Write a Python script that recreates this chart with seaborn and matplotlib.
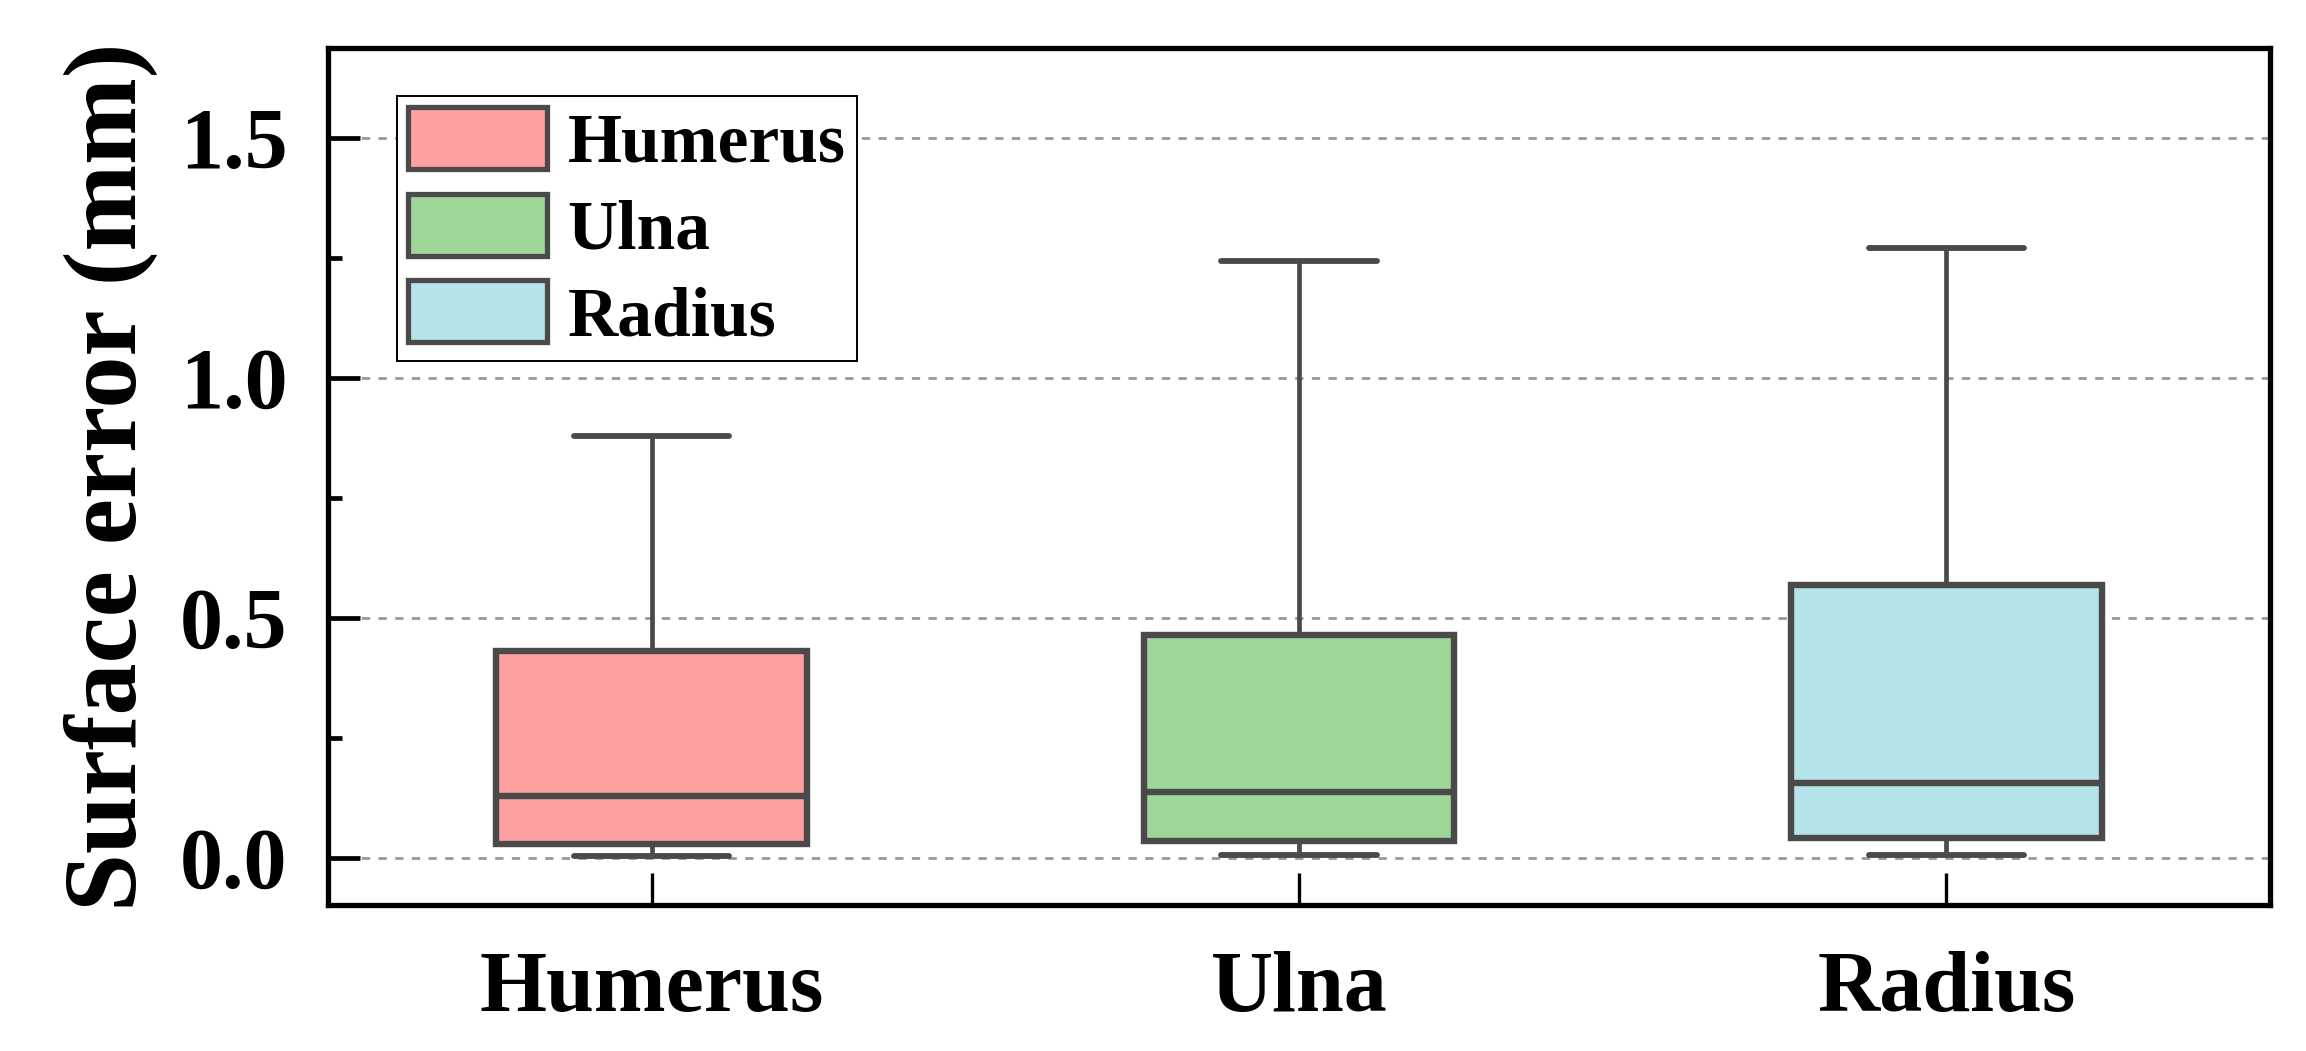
import numpy as np
import pandas as pd
import matplotlib
matplotlib.use("Agg")
import matplotlib.pyplot as plt
from matplotlib.patches import Patch
from matplotlib.font_manager import FontProperties
import seaborn as sns

# ---- data: five-number summaries ----
categories = ["Humerus", "Ulna", "Radius"]
minimums = [0.004, 0.006, 0.006]
q1s = [0.028, 0.034, 0.041]
medians = [0.129, 0.137, 0.155]
q3s = [0.430, 0.464, 0.568]
maximums = [0.878, 1.244, 1.271]

colors = ["#FFA0A0", "#9ED69A", "#B4E4EA"]
edge = "#4A4A4A"

rows = []
for cat, a, b, c, d, e in zip(categories, minimums, q1s, medians, q3s, maximums):
    for v in (a, b, c, d, e):
        rows.append({"bone": cat, "error": v})
df = pd.DataFrame(rows)

sns.set_style("white")
plt.rcParams["font.family"] = ["Liberation Serif", "DejaVu Serif"]
plt.rcParams["font.weight"] = "bold"
plt.rcParams["text.color"] = "black"
plt.rcParams["axes.labelcolor"] = "black"
plt.rcParams["xtick.color"] = "black"
plt.rcParams["ytick.color"] = "black"

fig = plt.figure(figsize=(23.06, 10.51), dpi=100, facecolor="white")
ax = fig.add_axes([0.1422, 0.1389, 0.8422, 0.8154])

sns.boxplot(
    data=df, x="bone", y="error", hue="bone", order=categories,
    hue_order=categories, palette=colors, saturation=1, width=0.48,
    whis=(0, 100), linecolor=edge, linewidth=4.6, legend=False, ax=ax,
    boxprops=dict(linewidth=4.6),
    whiskerprops=dict(linewidth=3.4), capprops=dict(linewidth=4.2),
    medianprops=dict(linewidth=4.6), showfliers=False,
)

ax.set_xlim(-0.5, 2.5)
ax.set_ylim(-0.099, 1.688)

ax.set_yticks([0.0, 0.5, 1.0, 1.5])
ax.set_yticklabels(["0.0", "0.5", "1.0", "1.5"])
ax.set_yticks([0.25, 0.75, 1.25], minor=True)

ax.yaxis.grid(True, which="major", linestyle=(0, (3, 3)), color="#999999",
              linewidth=2.0)
ax.xaxis.grid(False)
ax.set_axisbelow(True)

for s in ax.spines.values():
    s.set_visible(True)
    s.set_color("black")
    s.set_linewidth(3.8)

ax.tick_params(axis="y", which="major", direction="in", length=23, width=3.4,
               color="black", labelcolor="black", labelsize=62, pad=29,
               left=True, right=False)
ax.tick_params(axis="y", which="minor", direction="in", length=10, width=3.4,
               color="black", left=True, right=False)
ax.tick_params(axis="x", which="major", direction="in", length=23, width=2.4,
               color="black", labelcolor="black", labelsize=62, pad=33,
               bottom=True, top=False)
for lbl in ax.get_xticklabels() + ax.get_yticklabels():
    lbl.set_fontweight("bold")
    lbl.set_color("black")

ax.set_xlabel("")
ax.set_ylabel("Surface error (mm)", fontsize=75, fontweight="bold",
              color="black")
ax.yaxis.set_label_coords(-0.0875, 0.5)

handles = [Patch(facecolor=c, edgecolor=edge, linewidth=3.8) for c in colors]
leg = ax.legend(
    handles, categories, loc="upper left", bbox_to_anchor=(0.0355, 0.944),
    borderaxespad=0, frameon=True, fancybox=False, edgecolor="black",
    framealpha=1, prop=FontProperties(family="Liberation Serif",
                                      weight="bold", size=50),
    handlelength=2.0, handleheight=1.0, handletextpad=0.3,
    borderpad=0.16, labelspacing=0.24,
)
leg.get_frame().set_linewidth(1.4)
for t in leg.get_texts():
    t.set_color("black")

fig.savefig("out.png", dpi=100, facecolor="white")
